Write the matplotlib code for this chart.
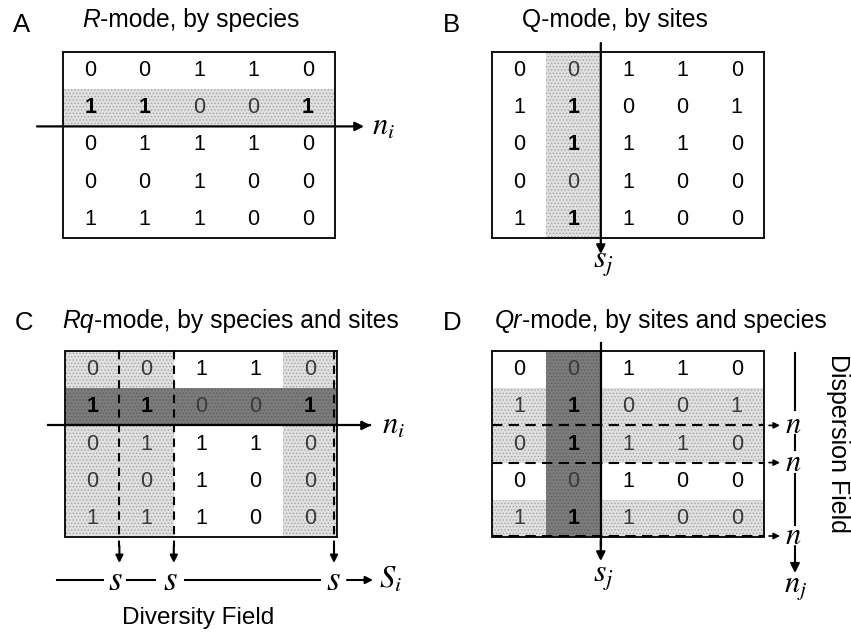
import matplotlib
matplotlib.use("Agg")
import matplotlib.pyplot as plt
from matplotlib.patches import Rectangle

plt.rcParams['font.family'] = ['Liberation Sans', 'DejaVu Sans']
plt.rcParams['mathtext.fontset'] = 'stix'
plt.rcParams['hatch.linewidth'] = 0.6

# ---- data ----
matrix = [[0, 0, 1, 1, 0],
          [1, 1, 0, 0, 1],
          [0, 1, 1, 1, 0],
          [0, 0, 1, 0, 0],
          [1, 1, 1, 0, 0]]
focus_row = 1
focus_col = 1
c_cols = [0, 1, 4]          # sites in diversity field (panel C)
d_rows = [1, 2, 4]          # species in dispersion field (panel D)
panel_letters = ["A", "B", "C", "D"]
title_italic = ["R", "", "Rq", "Qr"]
title_rest = ["-mode, by species", "Q-mode, by sites",
              "-mode, by species and sites", "-mode, by sites and species"]

W, H = 851, 635
fig = plt.figure(figsize=(W / 100, H / 100), dpi=100)
ax = fig.add_axes([0, 0, 1, 1])
ax.set_xlim(0, W)
ax.set_ylim(H, 0)
ax.axis('off')
renderer = fig.canvas.get_renderer()

CW, CH = 54.4, 37.2
LIGHT = dict(facecolor='#e0e0e0', edgecolor='#a4a4a4', hatch='.....', lw=0)
DARK = dict(facecolor='#7c7c7c', edgecolor='#5e5e5e', hatch='.....', lw=0)
NUMFS = 15.5


def arrow(x1, y1, x2, y2, lw=1.6, ms=13):
    ax.annotate('', xy=(x2, y2), xytext=(x1, y1),
                arrowprops=dict(arrowstyle='-|>', lw=lw, color='k',
                                mutation_scale=ms, shrinkA=0, shrinkB=0))


def draw_matrix(x0, y0, light_rows=(), light_cols=(), dark_rows=(), dark_cols=(),
                bold_row=None, bold_col=None):
    for r in light_rows:
        ax.add_patch(Rectangle((x0, y0 + r * CH), 5 * CW, CH, **LIGHT))
    for c in light_cols:
        ax.add_patch(Rectangle((x0 + c * CW, y0), CW, 5 * CH, **LIGHT))
    for r in dark_rows:
        ax.add_patch(Rectangle((x0, y0 + r * CH), 5 * CW, CH, **DARK))
    for c in dark_cols:
        ax.add_patch(Rectangle((x0 + c * CW, y0), CW, 5 * CH, **DARK))
    shaded_r = set(light_rows) | set(dark_rows)
    shaded_c = set(light_cols) | set(dark_cols)
    for r in range(5):
        for c in range(5):
            v = matrix[r][c]
            bold = (v == 1) and (r == bold_row or c == bold_col)
            color = 'k'
            if (r in shaded_r or c in shaded_c) and not bold:
                color = '#3a3a3a'
            ax.text(x0 + (c + 0.5) * CW, y0 + (r + 0.5) * CH, str(v),
                    ha='center', va='center', fontsize=NUMFS, color=color,
                    fontweight='bold' if bold else 'normal', zorder=5)
    ax.add_patch(Rectangle((x0, y0), 5 * CW, 5 * CH, fill=False, lw=1.4,
                           edgecolor='#111111', zorder=6))


TFS = 17.7
letter_pos = [(13, 32), (443, 32), (15, 330), (443, 330)]
title_pos = [(82, 27), (522, 27), (62, 328), (495, 328)]
for i in range(4):
    ax.text(*letter_pos[i], panel_letters[i], fontsize=18.5, va='baseline')
    tx, ty = title_pos[i]
    if title_italic[i]:
        t = ax.text(tx, ty, title_italic[i], fontsize=TFS, va='baseline',
                    fontstyle='italic')
        tx = t.get_window_extent(renderer).x1
    ax.text(tx, ty, title_rest[i], fontsize=TFS, va='baseline')

# ---- panel A ----
xa, ya = 63, 52
draw_matrix(xa, ya, light_rows=[focus_row], bold_row=focus_row)
arrow(37, ya + 2 * CH, 364, ya + 2 * CH)
ax.text(372, ya + 2 * CH, "$n_i$", fontsize=22, va='center', ha='left')

# ---- panel B ----
xb, yb = 492, 52
draw_matrix(xb, yb, light_cols=[focus_col], bold_col=focus_col)
arrow(xb + 2 * CW, 43, xb + 2 * CW, 254)
ax.text(xb + 2 * CW + 3, 264, "$s_j$", fontsize=23, va='center', ha='center')

# ---- panel C ----
xc, yc = 65, 351
draw_matrix(xc, yc, light_cols=c_cols, dark_rows=[focus_row], bold_row=focus_row)
ax.plot([xc - 17, xc + 305], [yc + 2 * CH] * 2, color='k', lw=1.6, zorder=7)
arrow(xc + 300, yc + 2 * CH, xc + 306, yc + 2 * CH)
ax.text(382, yc + 2 * CH, "$n_i$", fontsize=22, va='center', ha='left')
dash_x = [xc + (c + 1) * CW - (3 if c == 4 else 0) for c in c_cols]
s_x = [115, 170, 333]
for dx in dash_x:
    ax.plot([dx, dx], [yc, 547], color='k', lw=1.5, ls=(0, (4, 3)), zorder=7)
    arrow(dx, 546, dx, 563, lw=1.5, ms=11)
yl = 580
for sx in s_x:
    ax.text(sx, yl, "$s$", fontsize=25, ha='center', va='center')
for x1, x2 in [(57, 103), (127, 155), (185, 320)]:
    ax.plot([x1, x2], [yl, yl], color='k', lw=1.5)
arrow(347, yl, 373, yl, lw=1.5, ms=11)
ax.text(379, yl, "$S_i$", fontsize=22, ha='left', va='center')
ax.text(198, 618, "Diversity Field", fontsize=17.5, ha='center', va='center')

# ---- panel D ----
xd, yd = 492, 351
draw_matrix(xd, yd, light_rows=d_rows, dark_cols=[focus_col], bold_col=focus_col)
ax.plot([xd + 2 * CW, xd + 2 * CW], [343, 545], color='k', lw=1.6, zorder=7)
arrow(xd + 2 * CW, 540, xd + 2 * CW, 561)
ax.text(xd + 2 * CW + 3, 578, "$s_j$", fontsize=23, va='center', ha='center')
n_y = [yd + (r + 1) * CH - (1 if r == 4 else 0) for r in d_rows]
for ny in n_y:
    ax.plot([xd, xd + 5 * CW], [ny, ny], color='k', lw=1.5, ls=(0, (5, 3)), zorder=7)
    arrow(xd + 5 * CW + 5, ny, xd + 5 * CW + 16, ny, lw=1.2, ms=9)
    ax.text(793, ny, "$n$", fontsize=22, ha='center', va='center')
xr = 795
ax.plot([xr, xr], [353, 410], color='k', lw=1.5)
ax.plot([xr, xr], [435, 450], color='k', lw=1.5)
ax.plot([xr, xr], [474, 525], color='k', lw=1.5)
arrow(xr, 546, xr, 573, lw=1.5, ms=14)
ax.text(xr + 1, 587, "$n_j$", fontsize=22, ha='center', va='center')
ax.text(838, 443, "Dispersion Field", fontsize=18, rotation=-90,
        ha='center', va='center')

fig.savefig("out.png", dpi=100)
